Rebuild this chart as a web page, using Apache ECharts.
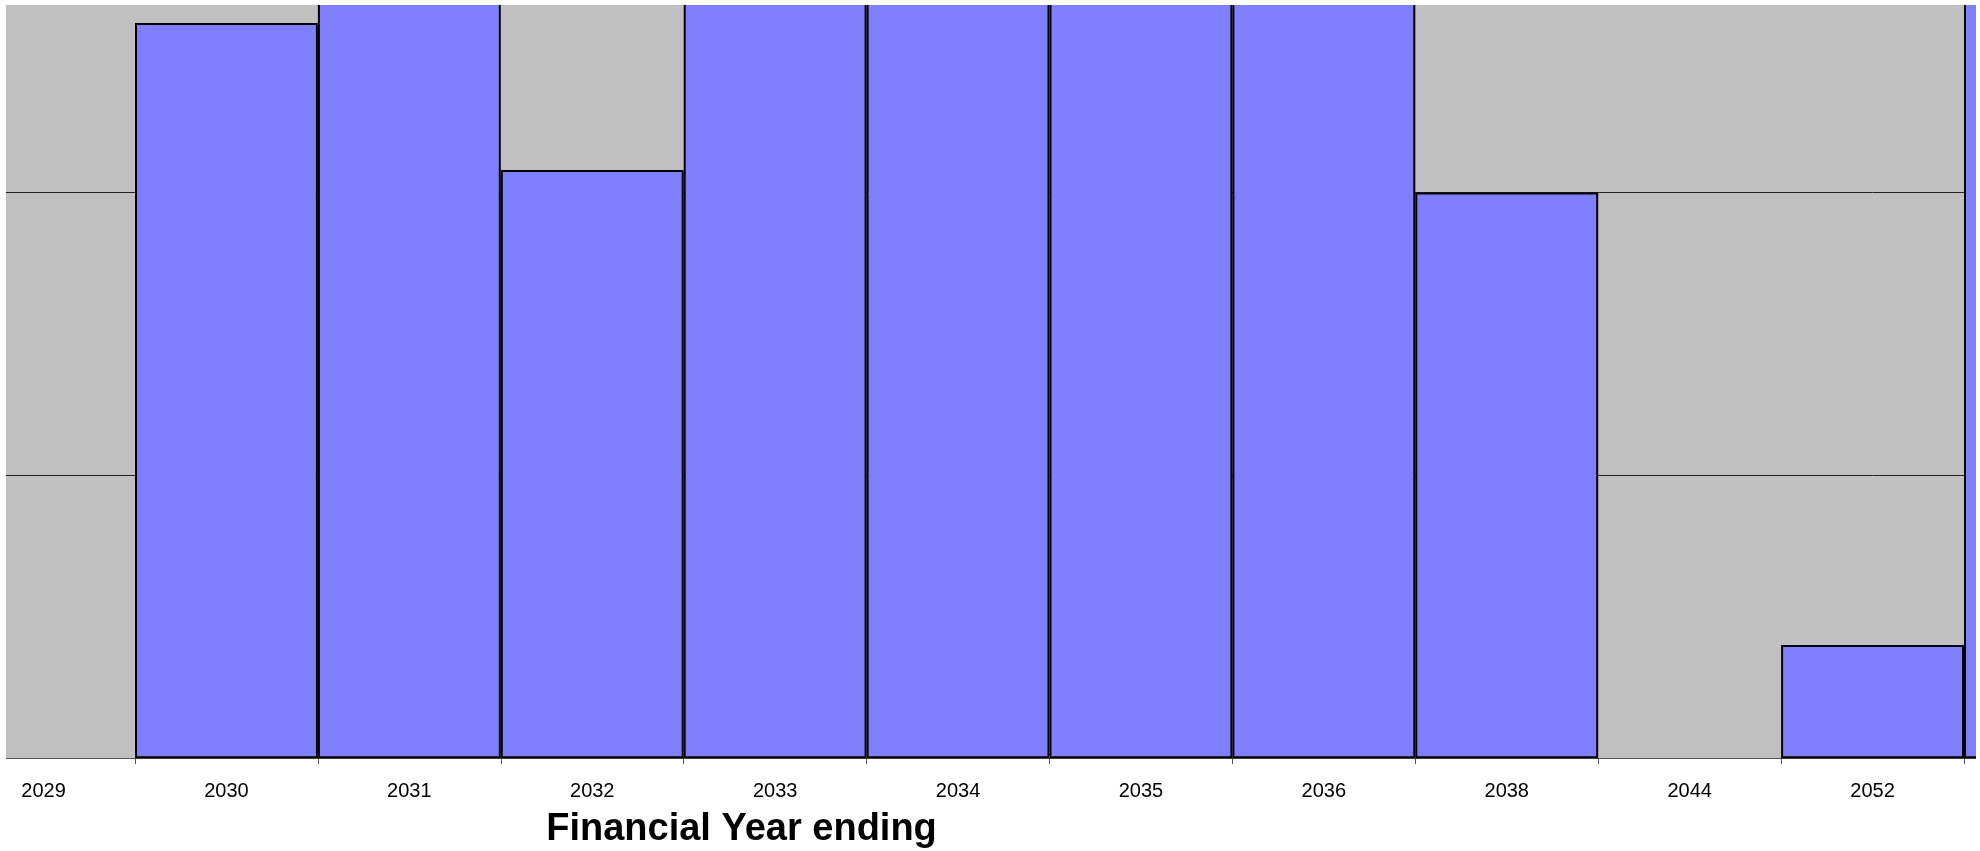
<!DOCTYPE html>
<html>
<head>
<meta charset="utf-8">
<script src="https://cdn.jsdelivr.net/npm/echarts@6/dist/echarts.min.js"></script>
<style>
html,body{margin:0;padding:0;background:#fff;width:1980px;height:851px;overflow:hidden;}
#clip{position:absolute;left:6px;top:5px;width:1970px;height:846px;overflow:hidden;}
#chart{position:absolute;left:-106px;top:-405px;width:2500px;height:1256px;}
</style>
</head>
<body>
<div id="clip"><div id="chart"></div></div>
<script>
// Categories (financial year ending); the last one is only partly visible at the right edge
const years = ['2029','2030','2031','2032','2033','2034','2035','2036','2038','2044','2052',''];
// Bar values (one unit = one gridline step); null = no bar
const values = [null, 2.6, 2.9, 2.08, 2.9, 2.9, 2.9, 2.9, 2.0, null, 0.4, 2.9];
const axisTitle = 'Financial Year ending';

const chart = echarts.init(document.getElementById('chart'), null, {renderer:'canvas'});
const FONT = "'Liberation Sans', Arial, sans-serif";
chart.setOption({
  animation: false,
  grid: {
    left: 52.1, top: 27, width: 182.9 * 12, height: 4 * 282.8,
    show: true, backgroundColor: '#c0c0c0', borderWidth: 0
  },
  xAxis: {
    type: 'category',
    data: years,
    boundaryGap: true,
    axisLine: {show: true, lineStyle: {color: '#555', width: 1}},
    axisTick: {show: true, length: 6, interval: 0, lineStyle: {color: '#555', width: 1}},
    axisLabel: {interval: 0, color: '#000', fontFamily: FONT, fontSize: 20, margin: 23},
    splitLine: {show: false}
  },
  yAxis: {
    type: 'value', min: 0, max: 4, interval: 1,
    axisLine: {show: false}, axisTick: {show: false}, axisLabel: {show: false},
    splitLine: {show: true, lineStyle: {color: '#222', width: 1}}
  },
  series: [{
    type: 'bar',
    data: values,
    barCategoryGap: '0%',
    itemStyle: {color: '#8080ff', borderColor: '#000', borderWidth: 2}
  }],
  graphic: [{
    type: 'text', x: 841.5, y: 1230,
    style: {text: axisTitle, font: 'bold 38px ' + FONT, fill: '#000', textAlign: 'center', textVerticalAlign: 'middle'}
  }]
});
</script>
</body>
</html>
